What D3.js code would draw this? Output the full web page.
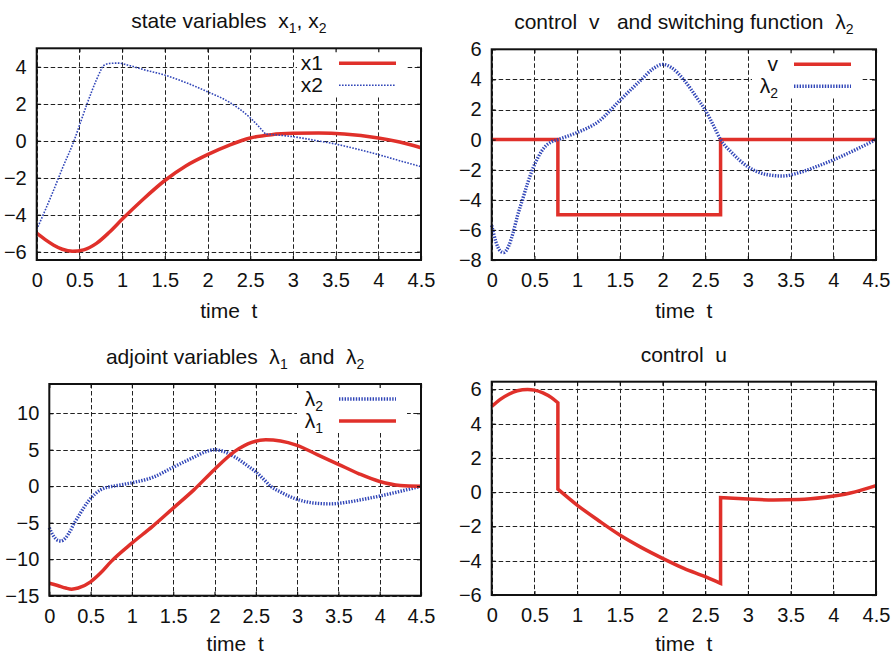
<!DOCTYPE html>
<html>
<head>
<meta charset="utf-8">
<script src="https://cdn.jsdelivr.net/npm/d3@7"></script>
<style>
  body { margin: 0; background: #fff; }
  svg text { font-family: "Liberation Sans", Arial, Helvetica, sans-serif; fill: #111; white-space: pre; }
</style>
</head>
<body>
<svg id="chart" width="895" height="655"></svg>
<script>
// ---- data ----
const timeTicks = [0, 0.5, 1, 1.5, 2, 2.5, 3, 3.5, 4, 4.5];
const stateTicks = [-6, -4, -2, 0, 2, 4];
const switchTicks = [-8, -6, -4, -2, 0, 2, 4, 6];
const adjointTicks = [-15, -10, -5, 0, 5, 10];
const controlTicks = [-6, -4, -2, 0, 2, 4, 6];

const x1Data = [[0,-5.0],[0.1,-5.35],[0.2,-5.65],[0.3,-5.87],[0.42,-5.98],[0.55,-5.9],[0.7,-5.55],[0.85,-4.95],[1.0,-4.25],[1.25,-3.15],[1.5,-2.15],[1.75,-1.35],[2.0,-0.75],[2.25,-0.25],[2.5,0.15],[2.75,0.33],[3.0,0.4],[3.3,0.42],[3.6,0.37],[4.0,0.15],[4.25,-0.07],[4.5,-0.38]];

const x2Rise = [[0,-4.8],[0.1,-3.75],[0.2,-2.65],[0.3,-1.5],[0.437,0],[0.5,0.82],[0.59,2.0],[0.7,3.3],[0.775,4.05]];
const x2Fall = [[0.775,4.05],[0.85,4.18],[0.95,4.2],[1.1,4.05],[1.25,3.85],[1.5,3.55],[1.75,3.14],[2.0,2.65],[2.25,2.1],[2.5,1.24],[2.68,0.36]];
const x2Tail = [[2.68,0.36],[2.8,0.32],[3.0,0.22],[3.25,0.03],[3.5,-0.18],[3.75,-0.45],[4.0,-0.75],[4.25,-1.08],[4.5,-1.4]];

const vData = [[0,0],[0.775,-5],[2.68,0],[4.5,0]];

const lambda2Data = [[0,-5.7],[0.05,-6.8],[0.1,-7.4],[0.14,-7.5],[0.2,-7.05],[0.25,-6.2],[0.3,-5.1],[0.36,-4.0],[0.42,-2.9],[0.48,-1.95],[0.55,-1.1],[0.62,-0.5],[0.7,-0.15],[0.775,0],[0.9,0.25],[1.0,0.47],[1.25,1.2],[1.5,2.6],[1.75,3.97],[1.9,4.75],[2.0,5.0],[2.1,4.8],[2.25,3.97],[2.4,2.8],[2.5,1.97],[2.6,0.9],[2.68,0],[2.8,-0.8],[3.0,-1.8],[3.2,-2.3],[3.4,-2.42],[3.6,-2.2],[3.8,-1.8],[4.0,-1.35],[4.25,-0.7],[4.5,0]];

const lambda1Data = [[0,-13.3],[0.1,-13.6],[0.2,-13.95],[0.27,-14.1],[0.35,-13.95],[0.5,-13.1],[0.62,-11.9],[0.75,-10.3],[1.0,-7.8],[1.25,-5.5],[1.5,-3.0],[1.75,-0.5],[2.0,2.3],[2.25,4.8],[2.45,6.0],[2.62,6.35],[2.8,6.2],[3.0,5.6],[3.25,4.3],[3.5,3.0],[3.75,1.7],[4.0,0.64],[4.25,0.1],[4.5,0.0]];

const uBefore = [[0,5.0],[0.1,5.42],[0.2,5.72],[0.3,5.92],[0.42,6.0],[0.5,5.96],[0.6,5.8],[0.7,5.52],[0.775,5.22]];
const uBang = [[0.775,0.18],[1.0,-0.75],[1.25,-1.65],[1.5,-2.5],[1.75,-3.22],[2.0,-3.86],[2.25,-4.45],[2.5,-4.93],[2.68,-5.32]];
const uAfter = [[2.68,-0.32],[3.0,-0.4],[3.3,-0.45],[3.6,-0.43],[3.9,-0.3],[4.2,-0.05],[4.5,0.38]];

// ---- styles ----
const RED = '#e0302a';
const BLUE = '#3146b8';
const styles = {
  red:       { stroke: RED,  width: 3.5, dash: null },
  blueThin:  { stroke: BLUE, width: 1.6, dash: '1.6,1.4' },
  blueThick: { stroke: BLUE, width: 3.4, dash: '1.4,1.4' },
};

const panels = [
  {
    left: 36.7, right: 421, top: 48.3, bottom: 260, yDomain: [-6.45, 5], yTicks: stateTicks,
    title: ['state variables  x', {sub: '1'}, ', x', {sub: '2'}],
    series: [
      { label: ['x1'], style: 'red', segments: [x1Data] },
      { label: ['x2'], style: 'blueThin', segments: [x2Rise, x2Fall, x2Tail] },
    ],
  },
  {
    left: 491.7, right: 876, top: 49.3, bottom: 260, yDomain: [-8, 6], yTicks: switchTicks,
    title: ['control  v   and switching function  λ', {sub: '2'}],
    series: [
      { label: ['v'], style: 'red', segments: [vData], step: true },
      { label: ['λ', {sub: '2'}], style: 'blueThick', segments: [lambda2Data] },
    ],
  },
  {
    left: 49.3, right: 421, top: 384, bottom: 595.7, yDomain: [-15, 14], yTicks: adjointTicks,
    title: ['adjoint variables  λ', {sub: '1'}, '  and  λ', {sub: '2'}],
    series: [
      { label: ['λ', {sub: '2'}], style: 'blueThick', segments: [lambda2Data] },
      { label: ['λ', {sub: '1'}], style: 'red', segments: [lambda1Data] },
    ],
  },
  {
    left: 491.7, right: 876, top: 381.7, bottom: 595, yDomain: [-6, 6.45], yTicks: controlTicks,
    title: ['control  u'],
    series: [
      { label: null, style: 'red', segments: [uBefore, uBang, uAfter] },
    ],
  },
];

const svg = d3.select('#chart');

// text with subscripts
function addRich(textSel, parts) {
  let shift = 0;
  parts.forEach(pt => {
    const sub = typeof pt !== 'string';
    const target = sub ? 5 : 0;
    const ts = textSel.append('tspan').text(sub ? pt.sub : pt);
    if (target !== shift) { ts.attr('dy', target - shift); shift = target; }
    if (sub) ts.attr('font-size', 14);
  });
}

function drawPanel(p) {
  const g = svg.append('g');
  const x = d3.scaleLinear().domain([0, 4.5]).range([p.left, p.right]);
  const y = d3.scaleLinear().domain(p.yDomain).range([p.bottom, p.top]);

  // Grid
  const grid = g.append('g')
    .attr('stroke', '#222')
    .attr('stroke-width', 1)
    .attr('stroke-dasharray', '4.5,2.5');
  grid.selectAll('.gx').data(timeTicks).join('line')
    .attr('x1', d => Math.round(x(d)) + 0.5).attr('x2', d => Math.round(x(d)) + 0.5)
    .attr('y1', p.top).attr('y2', p.bottom);
  grid.selectAll('.gy').data(p.yTicks).join('line')
    .attr('x1', p.left).attr('x2', p.right)
    .attr('y1', d => Math.round(y(d)) + 0.5).attr('y2', d => Math.round(y(d)) + 0.5);

  // Legend background
  const hasLegend = p.series.some(s => s.label);
  if (hasLegend) {
    g.append('rect')
      .attr('x', p.right - 124).attr('y', p.top + 1)
      .attr('width', 110).attr('height', 48)
      .attr('fill', '#fff');
  }

  // Curves
  const line = d3.line().x(d => x(d[0])).y(d => y(d[1])).curve(d3.curveMonotoneX);
  const stepLine = d3.line().x(d => x(d[0])).y(d => y(d[1])).curve(d3.curveStepAfter);
  p.series.forEach(s => {
    const st = styles[s.style];
    const gen = s.step ? stepLine : line;
    const d = s.segments.map((seg, i) => {
      const path = gen(seg);
      return i === 0 ? path : 'L' + path.slice(1);
    }).join('');
    g.append('path')
      .attr('d', d)
      .attr('fill', 'none')
      .attr('stroke', st.stroke)
      .attr('stroke-width', st.width)
      .attr('stroke-dasharray', st.dash)
      .attr('stroke-linejoin', 'miter');
  });

  // Frame
  g.append('rect')
    .attr('x', p.left).attr('y', p.top)
    .attr('width', p.right - p.left).attr('height', p.bottom - p.top)
    .attr('fill', 'none').attr('stroke', '#111').attr('stroke-width', 2);

  // Axes (inward ticks, mirrored)
  const fmt = d3.format('');
  const axB = g.append('g').attr('transform', `translate(0,${p.bottom})`)
    .call(d3.axisBottom(x).tickValues(timeTicks).tickSize(-4).tickPadding(12.8).tickFormat(fmt));
  const axL = g.append('g').attr('transform', `translate(${p.left},0)`)
    .call(d3.axisLeft(y).tickValues(p.yTicks).tickSize(-4).tickPadding(10).tickFormat(fmt));
  const axT = g.append('g').attr('transform', `translate(0,${p.top})`)
    .call(d3.axisTop(x).tickValues(timeTicks).tickSize(-4).tickFormat(''));
  const axR = g.append('g').attr('transform', `translate(${p.right},0)`)
    .call(d3.axisRight(y).tickValues(p.yTicks).tickSize(-4).tickFormat(''));
  [axB, axL, axT, axR].forEach(a => {
    a.attr('font-size', 20).attr('color', '#111');
    a.select('.domain').remove();
    a.selectAll('.tick line').attr('stroke-width', 1.2);
  });

  // Title
  const title = g.append('text')
    .attr('x', (p.left + p.right) / 2).attr('y', p.top - 20)
    .attr('text-anchor', 'middle').attr('font-size', 21);
  addRich(title, p.title);

  // X label
  g.append('text')
    .attr('x', (p.left + p.right) / 2).attr('y', Math.min(p.bottom + 58, 651))
    .attr('text-anchor', 'middle').attr('font-size', 21)
    .text('time  t');

  // Legend entries
  p.series.filter(s => s.label).forEach((s, i) => {
    const st = styles[s.style];
    const ly = p.top + 15 + i * 22;
    g.append('line')
      .attr('x1', p.right - 82).attr('x2', p.right - 25)
      .attr('y1', ly).attr('y2', ly)
      .attr('stroke', st.stroke)
      .attr('stroke-width', st.width)
      .attr('stroke-dasharray', st.dash);
    const t = g.append('text')
      .attr('x', p.right - 98).attr('y', ly + 7)
      .attr('text-anchor', 'end').attr('font-size', 21);
    addRich(t, s.label);
  });
}

panels.forEach(drawPanel);
</script>
</body>
</html>
